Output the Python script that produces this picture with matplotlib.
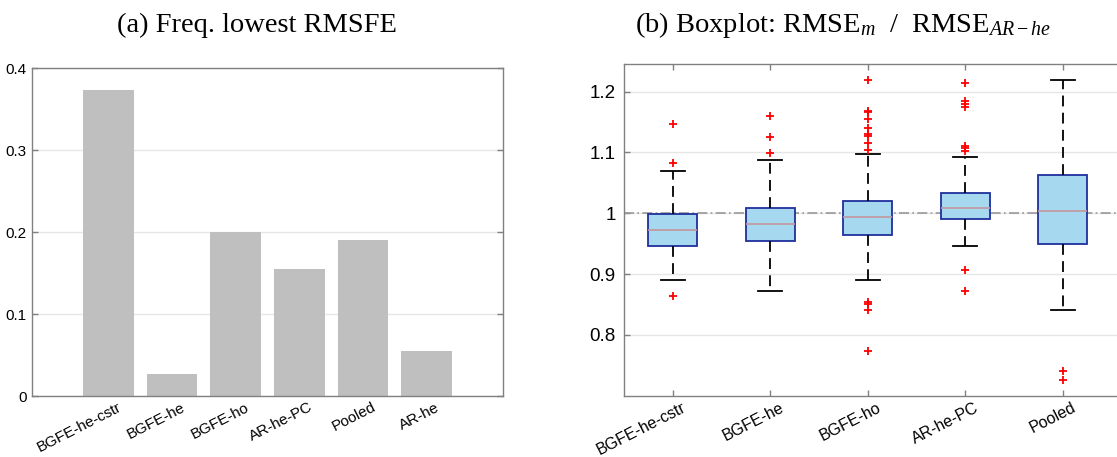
import matplotlib
matplotlib.use("Agg")
import matplotlib.pyplot as plt
from matplotlib.transforms import ScaledTranslation

# ---- data ----
bar_models = ['BGFE-he-cstr', 'BGFE-he', 'BGFE-ho', 'AR-he-PC', 'Pooled', 'AR-he']
freq_lowest = [0.373, 0.027, 0.200, 0.155, 0.190, 0.055]

box_models = ['BGFE-he-cstr', 'BGFE-he', 'BGFE-ho', 'AR-he-PC', 'Pooled']
whislo = [0.890, 0.872, 0.891, 0.946, 0.841]
q1 = [0.946, 0.954, 0.964, 0.990, 0.950]
med = [0.972, 0.982, 0.994, 1.009, 1.003]
q3 = [0.999, 1.009, 1.020, 1.033, 1.063]
whishi = [1.070, 1.088, 1.098, 1.092, 1.219]
outliers = [
    [1.146, 1.083, 0.864],
    [1.160, 1.126, 1.099],
    [1.219, 1.168, 1.166, 1.155, 1.140, 1.131, 1.127, 1.115, 1.104,
     0.854, 0.851, 0.841, 0.774],
    [1.214, 1.185, 1.180, 1.175, 1.111, 1.107, 1.103, 0.906, 0.872],
    [0.740, 0.725],
]

plt.rcParams['font.family'] = ['Liberation Sans', 'DejaVu Sans']
plt.rcParams['mathtext.fontset'] = 'custom'
plt.rcParams['mathtext.rm'] = 'Liberation Serif'
plt.rcParams['mathtext.it'] = 'Liberation Serif:italic'

W, H = 1117, 457
fig = plt.figure(figsize=(W / 100, H / 100), dpi=100)

SPINE = '#808080'
GRID = '#e6e6e6'


def matlab_style(ax):
    for s in ax.spines.values():
        s.set_color(SPINE)
        s.set_linewidth(1.0)
    ax.tick_params(direction='in', color=SPINE, length=4, width=1)
    ax.grid(axis='y', color=GRID, linewidth=1)
    ax.set_axisbelow(True)


def shift_xlabels(ax, dx_px):
    off = ScaledTranslation(dx_px / 100, 0, fig.dpi_scale_trans)
    for lab in ax.get_xticklabels():
        lab.set_transform(lab.get_transform() + off)


# ---- (a) bar chart ----
ax1 = fig.add_axes([32 / W, 1 - 396 / H, 471 / W, 328 / H])
pos = list(range(1, len(bar_models) + 1))
ax1.bar(pos, freq_lowest, width=0.8, color='#bfbfbf', edgecolor='none')
ax1.set_xlim(-0.2, 7.2)
ax1.set_ylim(0, 0.4)
ax1.set_yticks([0, 0.1, 0.2, 0.3, 0.4])
ax1.set_yticklabels(['0', '0.1', '0.2', '0.3', '0.4'], fontsize=11)
ax1.set_xticks(pos)
ax1.set_xticklabels(bar_models, rotation=27, ha='right', rotation_mode='anchor',
                    fontsize=11)
matlab_style(ax1)
ax1.tick_params(axis='y', right=True, pad=4)
ax1.tick_params(axis='x', length=0, pad=3)
shift_xlabels(ax1, 9)

# ---- (b) boxplot ----
ax2 = fig.add_axes([624 / W, 1 - 395.7 / H, (1125 - 624) / W, 331.4 / H])
stats = []
for i in range(len(box_models)):
    stats.append(dict(label=box_models[i], whislo=whislo[i], q1=q1[i], med=med[i],
                      q3=q3[i], whishi=whishi[i], fliers=outliers[i]))
ax2.axhline(1.0, color='#999999', linestyle=(0, (6, 2, 1, 2)), linewidth=1.2, zorder=1)
ax2.bxp(stats, positions=range(1, len(box_models) + 1), widths=0.5,
        patch_artist=True, showfliers=True,
        boxprops=dict(facecolor='#a6d9ef', edgecolor='#1f2f9c', linewidth=1.3),
        medianprops=dict(color='#c4959e', linewidth=1.2),
        whiskerprops=dict(color='black', linestyle=(0, (6, 3.5)), linewidth=1.3),
        capprops=dict(color='black', linewidth=1.3),
        capwidths=0.25,
        flierprops=dict(marker='+', markeredgecolor='red', markersize=5.5,
                        markeredgewidth=1.3, linestyle='none'))
ax2.set_xlim(0.5, 0.5 + (1125 - 624) / 97.5)
ax2.set_ylim(0.70, 1.245)
ax2.set_yticks([0.8, 0.9, 1.0, 1.1, 1.2])
ax2.set_yticklabels(['0.8', '0.9', '1', '1.1', '1.2'], fontsize=13.5)
ax2.set_xticks(range(1, len(box_models) + 1))
ax2.set_xticklabels(box_models, rotation=27, ha='right', rotation_mode='anchor',
                    fontsize=11.5)
matlab_style(ax2)
ax2.tick_params(axis='x', top=True, pad=3)
ax2.tick_params(axis='y', right=True, pad=6)
shift_xlabels(ax2, 9)

# ---- titles (subfigure captions) ----
fig.text(257 / W, 1 - 25 / H, '(a) Freq. lowest RMSFE', ha='center', va='center',
         family='Liberation Serif', fontsize=20.5)
fig.text(843 / W, 1 - 25 / H, r'(b) Boxplot: RMSE$_{m}$  /  RMSE$_{AR-he}$',
         ha='center', va='center', family='Liberation Serif', fontsize=20.5)

fig.savefig('out.png', dpi=100)
